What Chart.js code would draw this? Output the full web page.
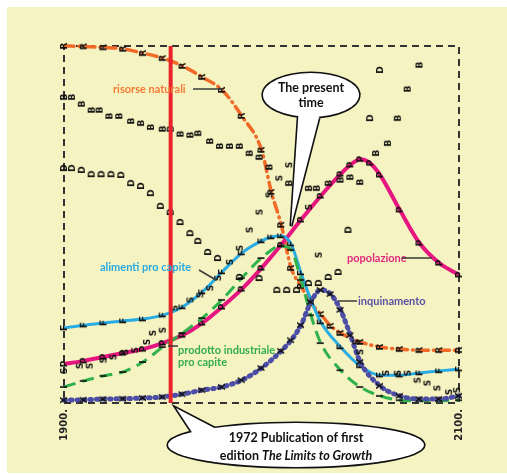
<!DOCTYPE html>
<html>
<head>
<meta charset="utf-8">
<script src="https://cdn.jsdelivr.net/npm/chart.js@4.4.1/dist/chart.umd.min.js"></script>
<style>
html, body { margin: 0; padding: 0; background: #fff; }
</style>
</head>
<body>
<canvas id="chart" width="507" height="475"></canvas>
<script>
// values are normalised 0..1 on the World3 "standard run" chart
var resYears = [1900, 1910, 1920, 1930, 1940, 1950, 1960, 1970, 1980, 1990, 2000, 2005, 2010, 2015, 2020, 2025, 2030, 2035, 2040, 2050, 2060, 2070, 2080, 2090, 2100];
var resValues = [1.0, 0.999, 0.996, 0.992, 0.980, 0.966, 0.944, 0.913, 0.877, 0.804, 0.709, 0.591, 0.499, 0.378, 0.328, 0.280, 0.249, 0.216, 0.196, 0.171, 0.157, 0.151, 0.148, 0.148, 0.148];

var popYears = [1900, 1910, 1920, 1930, 1940, 1950, 1960, 1970, 1980, 1990, 2000, 2010, 2020, 2030, 2040, 2045, 2050, 2055, 2060, 2070, 2080, 2090, 2100];
var popValues = [0.109, 0.118, 0.129, 0.140, 0.151, 0.168, 0.190, 0.224, 0.269, 0.319, 0.378, 0.443, 0.513, 0.580, 0.641, 0.667, 0.683, 0.672, 0.639, 0.541, 0.448, 0.392, 0.359];

var foodYears = [1900, 1910, 1920, 1930, 1940, 1950, 1960, 1970, 1980, 1990, 2000, 2005, 2010, 2015, 2020, 2025, 2030, 2040, 2050, 2060, 2070, 2080, 2090, 2100];
var foodValues = [0.210, 0.218, 0.224, 0.230, 0.235, 0.246, 0.269, 0.311, 0.367, 0.420, 0.454, 0.465, 0.468, 0.445, 0.364, 0.289, 0.227, 0.157, 0.104, 0.078, 0.078, 0.084, 0.090, 0.095];

var indYears = [1900, 1910, 1920, 1930, 1940, 1950, 1960, 1970, 1980, 1990, 2000, 2010, 2015, 2020, 2025, 2030, 2040, 2050, 2060, 2070, 2080, 2090, 2100];
var indValues = [0.045, 0.062, 0.076, 0.087, 0.115, 0.157, 0.196, 0.238, 0.289, 0.350, 0.406, 0.440, 0.429, 0.345, 0.246, 0.168, 0.092, 0.045, 0.020, 0.008, 0.006, 0.006, 0.008];

var polYears = [1900, 1910, 1920, 1930, 1940, 1950, 1960, 1970, 1980, 1990, 2000, 2010, 2015, 2020, 2025, 2030, 2035, 2040, 2045, 2050, 2060, 2070, 2080, 2090, 2100];
var polValues = [0.008, 0.009, 0.011, 0.012, 0.014, 0.017, 0.025, 0.036, 0.045, 0.064, 0.098, 0.146, 0.176, 0.218, 0.283, 0.317, 0.305, 0.261, 0.190, 0.115, 0.048, 0.020, 0.011, 0.011, 0.020];

// birth rate (B), death rate (D), services per capita (S) - plotted as loose letters
var birthYears = [1900, 1904, 1909, 1914, 1918, 1923, 1928, 1934, 1939, 1944, 1950, 1954, 1959, 1964, 1968, 1974, 1979, 1984, 1989, 1994, 1999, 2004, 2014, 2024, 2028, 2034, 2040, 2045, 2050, 2058, 2064, 2069, 2074, 2080];
var birthValues = [0.857, 0.857, 0.838, 0.821, 0.821, 0.804, 0.804, 0.790, 0.784, 0.773, 0.768, 0.768, 0.754, 0.751, 0.756, 0.734, 0.720, 0.720, 0.720, 0.700, 0.689, 0.661, 0.616, 0.602, 0.602, 0.616, 0.625, 0.633, 0.619, 0.700, 0.728, 0.798, 0.880, 0.947];

var deathYears = [1900, 1904, 1909, 1914, 1919, 1924, 1929, 1934, 1939, 1944, 1949, 1954, 1959, 1964, 1968, 1973, 1978, 1989, 1999, 2008, 2013, 2018, 2024, 2029, 2034, 2039, 2044, 2055, 2060];
var deathValues = [0.658, 0.658, 0.653, 0.641, 0.641, 0.641, 0.639, 0.616, 0.608, 0.588, 0.552, 0.535, 0.507, 0.476, 0.454, 0.423, 0.406, 0.353, 0.350, 0.317, 0.317, 0.317, 0.336, 0.336, 0.353, 0.367, 0.485, 0.798, 0.933];

var servYears = [1900, 1908, 1913, 1920, 1925, 1931, 1936, 1942, 1945, 1950, 1956, 1964, 1969, 1974, 1978, 1984, 1989, 1994, 1999, 2004, 2009, 2014, 2024, 2029, 2048, 2050, 2063, 2069, 2074, 2079, 2084, 2089, 2095, 2099];
var servValues = [0.090, 0.104, 0.104, 0.120, 0.129, 0.143, 0.148, 0.171, 0.196, 0.204, 0.266, 0.289, 0.303, 0.322, 0.350, 0.395, 0.434, 0.485, 0.535, 0.583, 0.630, 0.667, 0.549, 0.415, 0.171, 0.143, 0.084, 0.084, 0.084, 0.064, 0.056, 0.042, 0.031, 0.036];

var tickYears = [1900, 2100];
var tickLabels = ['1900.', '2100.'];
var markYear = 1954; // where the red "1972" line sits on this printout's time axis

function pts(xs, ys) {
    return xs.map(function (x, i) { return { x: x, y: ys[i] }; });
}

// letters of the printout are rotated a quarter turn
function letter(ch) {
    var c = document.createElement('canvas');
    c.width = 12; c.height = 12;
    var g = c.getContext('2d');
    g.translate(6, 6);
    g.rotate(-Math.PI / 2);
    g.font = 'bold 9px "DejaVu Sans"';
    g.fillStyle = '#111';
    g.textAlign = 'center';
    g.textBaseline = 'middle';
    g.fillText(ch, 0, 0.5);
    return c;
}

function curve(data, color, width, dash, ch, cap) {
    return {
        type: 'line',
        data: data,
        borderColor: color,
        borderWidth: width,
        borderDash: dash,
        borderCapStyle: cap || 'butt',
        cubicInterpolationMode: 'monotone',
        pointStyle: letter(ch),
        pointRadius: 4,
        pointHoverRadius: 4,
        clip: false
    };
}

function loose(data, ch) {
    return {
        type: 'scatter',
        data: data,
        showLine: false,
        pointStyle: letter(ch),
        pointRadius: 4,
        pointHoverRadius: 4,
        clip: false
    };
}

var backdrop = {
    id: 'backdrop',
    beforeDraw: function (chart) {
        var ctx = chart.ctx;
        ctx.save();
        ctx.fillStyle = '#fff';
        ctx.fillRect(0, 0, chart.width, chart.height);
        ctx.fillStyle = '#f6f3c2';
        ctx.fillRect(7, 7, 500, 466);
        var a = chart.chartArea;
        ctx.strokeStyle = '#333';
        ctx.lineWidth = 2;
        ctx.setLineDash([7, 5]);
        ctx.strokeRect(a.left, a.top, a.right - a.left, a.bottom - a.top);
        ctx.restore();
    }
};

function bubble(ctx, cx, cy, rx, ry, tail) {
    ctx.beginPath();
    ctx.moveTo(tail[0][0], tail[0][1]);
    ctx.lineTo(tail[1][0], tail[1][1]);
    ctx.lineTo(tail[2][0], tail[2][1]);
    ctx.closePath();
    ctx.ellipse(cx, cy, rx, ry, 0, 0, Math.PI * 2);
    ctx.lineWidth = 3.2;
    ctx.strokeStyle = '#111';
    ctx.stroke();
    ctx.fillStyle = '#fff';
    ctx.beginPath();
    ctx.moveTo(tail[0][0], tail[0][1]);
    ctx.lineTo(tail[1][0], tail[1][1]);
    ctx.lineTo(tail[2][0], tail[2][1]);
    ctx.closePath();
    ctx.fill();
    ctx.beginPath();
    ctx.ellipse(cx, cy, rx, ry, 0, 0, Math.PI * 2);
    ctx.fill();
}

function label(ctx, text, x, y, color, lead) {
    ctx.fillStyle = color;
    ctx.fillText(text, x, y);
    if (lead) {
        ctx.beginPath();
        ctx.moveTo(lead[0], lead[1]);
        ctx.lineTo(lead[2], lead[3]);
        ctx.strokeStyle = '#3a3a3a';
        ctx.lineWidth = 1.5;
        ctx.stroke();
    }
}

var notes = {
    id: 'notes',
    afterDraw: function (chart) {
        var ctx = chart.ctx;
        var xs = chart.scales.x;
        var a = chart.chartArea;
        ctx.save();

        // axis years, rotated
        ctx.font = 'bold 10px "DejaVu Sans"';
        ctx.fillStyle = '#222';
        ctx.textAlign = 'right';
        ctx.textBaseline = 'middle';
        tickYears.forEach(function (yr, i) {
            ctx.save();
            ctx.translate(xs.getPixelForValue(yr), a.bottom + 6);
            ctx.rotate(-Math.PI / 2);
            ctx.fillText(tickLabels[i], 0, 0);
            ctx.restore();
        });

        // series names
        ctx.font = 'bold 11px Lato';
        ctx.textAlign = 'left';
        label(ctx, 'risorse naturali', 113, 89, '#f47a34', [193, 89, 223, 89]);
        label(ctx, 'alimenti pro capite', 100, 267, '#29a9e1', [199, 270, 216, 280]);
        label(ctx, 'prodotto industriale', 178, 350, '#33ae4b', [168, 346, 178, 346]);
        label(ctx, 'pro capite', 178, 362, '#33ae4b');
        label(ctx, 'popolazione', 347, 258, '#e3287f', [402, 258, 432, 258]);
        label(ctx, 'inquinamento', 358, 301, '#5a51a4', [338, 301, 357, 301]);

        // speech bubbles
        bubble(ctx, 311, 95, 48, 22, [[299, 106], [291, 226], [322, 106]]);
        bubble(ctx, 296, 445, 128, 22, [[197, 440], [176, 408], [222, 432]]);
        ctx.fillStyle = '#111';
        ctx.textAlign = 'center';
        ctx.font = 'bold 12.5px Lato';
        ctx.fillText('The present', 311, 88);
        ctx.fillText('time', 311, 103);
        ctx.fillText('1972 Publication of first', 296, 438);
        var w1 = ctx.measureText('edition ').width;
        ctx.font = 'italic bold 12.5px Lato';
        var w2 = ctx.measureText('The Limits to Growth').width;
        var sx = 296 - (w1 + w2) / 2;
        ctx.textAlign = 'left';
        ctx.fillText('The Limits to Growth', sx + w1, 456);
        ctx.font = 'bold 12.5px Lato';
        ctx.fillText('edition ', sx, 456);
        ctx.restore();
    }
};

new Chart(document.getElementById('chart'), {
    data: {
        datasets: [
            {
                type: 'line',
                data: [{ x: markYear, y: 0 }, { x: markYear, y: 1 }],
                borderColor: '#e8232b',
                borderWidth: 4,
                pointRadius: 0,
                clip: false
            },
            loose(pts(birthYears, birthValues), 'B'),
            loose(pts(deathYears, deathValues), 'D'),
            loose(pts(servYears, servValues), 'S'),
            curve(pts(polYears, polValues), '#4c4da6', 5, [1.5, 5], 'X', 'round'),
            curve(pts(indYears, indValues), '#2fb14c', 3, [12, 7], 'I'),
            curve(pts(foodYears, foodValues), '#28ace3', 3, [], 'F'),
            curve(pts(popYears, popValues), '#e6157f', 4, [], 'P'),
            curve(pts(resYears, resValues), '#f26a28', 3.5, [10, 5, 1, 5], 'R', 'round')
        ]
    },
    options: {
        responsive: false,
        animation: false,
        events: [],
        layout: { padding: { left: 64, right: 48, top: 46, bottom: 72 } },
        plugins: { legend: { display: false }, tooltip: { enabled: false } },
        scales: {
            x: { type: 'linear', min: 1900, max: 2100, display: false },
            y: { min: 0, max: 1, display: false }
        }
    },
    plugins: [backdrop, notes]
});
</script>
</body>
</html>
